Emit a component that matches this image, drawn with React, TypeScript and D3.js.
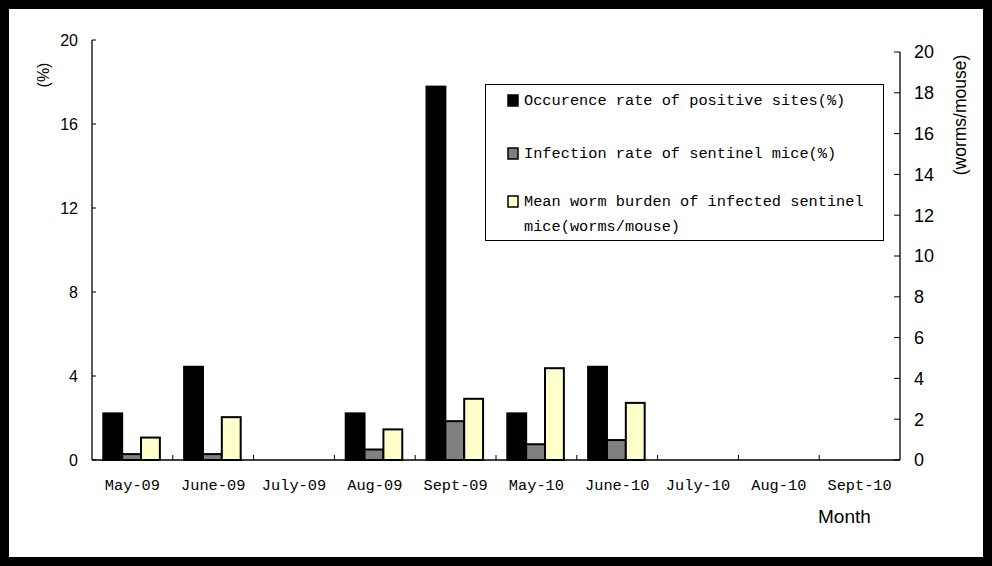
import React, { useEffect, useRef } from "react";
import * as d3 from "d3";

const months = ["May-09", "June-09", "July-09", "Aug-09", "Sept-09", "May-10", "June-10", "July-10", "Aug-10", "Sept-10"];
// left axis (%)
const occurrenceRate = [2.22, 4.44, 0, 2.22, 17.78, 2.22, 4.44, 0, 0, 0];
const infectionRate = [0.28, 0.28, 0, 0.5, 1.85, 0.75, 0.95, 0, 0, 0];
// right axis (worms/mouse)
const wormBurden = [1.1, 2.1, 0, 1.5, 3.0, 4.5, 2.8, 0, 0, 0];

const leftTicks = [0, 4, 8, 12, 16, 20];
const rightTicks = [0, 2, 4, 6, 8, 10, 12, 14, 16, 18, 20];

const seriesNames = [
  "Occurence rate of positive sites(%)",
  "Infection rate of sentinel mice(%)",
  "Mean worm burden of infected sentinel",
];
const seriesColors = ["#000000", "#808080", "#FFFFCC"];

const mono = "'Liberation Mono', 'DejaVu Sans Mono', monospace";
const sans = "'Liberation Sans', Arial, sans-serif";

export default function App() {
  const ref = useRef<SVGSVGElement>(null);

  useEffect(() => {
    const svg = d3.select(ref.current);
    svg.selectAll("*").remove();

    const W = 992, H = 566;
    const left = 92, right = 900, bottom = 460, topL = 40, topR = 52;

    svg.append("rect").attr("width", W).attr("height", H).attr("fill", "#000");
    svg.append("rect").attr("x", 9).attr("y", 9).attr("width", 974).attr("height", 548).attr("fill", "#fff");

    const x0 = d3.scaleBand().domain(months).range([left, right]);
    const x1 = d3.scaleBand().domain(["a", "b", "c"]).range([x0.bandwidth() * 0.14, x0.bandwidth() * 0.84]);
    const yL = d3.scaleLinear().domain([0, 20]).range([bottom, topL]);
    const yR = d3.scaleLinear().domain([0, 20]).range([bottom, topR]);

    const g = svg.append("g");

    const bars: { m: string; k: string; v: number; y: d3.ScaleLinear<number, number>; c: string }[] = [];
    months.forEach((m, i) => {
      bars.push({ m, k: "a", v: occurrenceRate[i], y: yL, c: seriesColors[0] });
      bars.push({ m, k: "b", v: infectionRate[i], y: yL, c: seriesColors[1] });
      bars.push({ m, k: "c", v: wormBurden[i], y: yR, c: seriesColors[2] });
    });

    g.selectAll("rect.bar").data(bars.filter(d => d.v > 0)).join("rect")
      .attr("class", "bar")
      .attr("x", d => (x0(d.m) as number) + (x1(d.k) as number))
      .attr("width", x1.bandwidth())
      .attr("y", d => d.y(d.v))
      .attr("height", d => bottom - d.y(d.v))
      .attr("fill", d => d.c)
      .attr("stroke", "#000")
      .attr("stroke-width", 2);

    // left axis
    g.append("line").attr("x1", left).attr("x2", left).attr("y1", topL).attr("y2", bottom).attr("stroke", "#000").attr("stroke-width", 1.3);
    g.selectAll("line.lt").data(leftTicks).join("line").attr("class", "lt")
      .attr("x1", left).attr("x2", left + 4).attr("y1", d => yL(d)).attr("y2", d => yL(d)).attr("stroke", "#000");
    g.selectAll("text.ll").data(leftTicks).join("text").attr("class", "ll")
      .attr("x", 78).attr("y", d => yL(d)).attr("dy", "0.35em").attr("text-anchor", "end")
      .style("font-family", sans).style("font-size", "16px").text(d => d);

    // right axis
    g.append("line").attr("x1", right).attr("x2", right).attr("y1", topR).attr("y2", bottom).attr("stroke", "#000").attr("stroke-width", 1.3);
    g.selectAll("line.rt").data(rightTicks).join("line").attr("class", "rt")
      .attr("x1", right - 6).attr("x2", right).attr("y1", d => yR(d)).attr("y2", d => yR(d)).attr("stroke", "#000");
    g.selectAll("text.rl").data(rightTicks).join("text").attr("class", "rl")
      .attr("x", 914).attr("y", d => yR(d)).attr("dy", "0.35em")
      .style("font-family", sans).style("font-size", "18px").text(d => d);

    // x axis
    g.append("line").attr("x1", left).attr("x2", right).attr("y1", bottom).attr("y2", bottom).attr("stroke", "#000").attr("stroke-width", 1.3);
    g.selectAll("line.xt").data(months.slice(1)).join("line").attr("class", "xt")
      .attr("x1", d => x0(d) as number).attr("x2", d => x0(d) as number)
      .attr("y1", bottom).attr("y2", bottom - 5).attr("stroke", "#000");
    g.selectAll("text.xl").data(months).join("text").attr("class", "xl")
      .attr("x", d => (x0(d) as number) + x0.bandwidth() / 2).attr("y", 485).attr("dy", "0.35em")
      .attr("text-anchor", "middle").style("font-family", mono).style("font-size", "15.3px").text(d => d);

    // axis titles
    svg.append("text").attr("transform", "translate(49,75) rotate(-90)").attr("text-anchor", "middle")
      .style("font-family", sans).style("font-size", "16px").text("(%)");
    svg.append("text").attr("transform", "translate(966,115) rotate(-90)").attr("text-anchor", "middle")
      .style("font-family", sans).style("font-size", "17.5px").text("(worms/mouse)");
    svg.append("text").attr("x", 818).attr("y", 523).style("font-family", sans).style("font-size", "19px").text("Month");

    // legend
    const lg = svg.append("g");
    lg.append("rect").attr("x", 485.5).attr("y", 84.5).attr("width", 398).attr("height", 156)
      .attr("fill", "#fff").attr("stroke", "#000");
    const rowY = [100, 153, 201];
    seriesNames.forEach((name, i) => {
      lg.append("rect").attr("x", 508).attr("y", rowY[i] - 5).attr("width", 10).attr("height", 11)
        .attr("fill", seriesColors[i]).attr("stroke", "#000").attr("stroke-width", 1.5);
      lg.append("text").attr("x", 524).attr("y", rowY[i]).attr("dy", "0.35em")
        .style("font-family", mono).style("font-size", "15.3px").text(name);
    });
    lg.append("text").attr("x", 524).attr("y", 226).attr("dy", "0.35em")
      .style("font-family", mono).style("font-size", "15.3px").text("mice(worms/mouse)");
  }, []);

  return <svg ref={ref} width={992} height={566} style={{ position: "absolute", left: 0, top: 0 }} />;
}
